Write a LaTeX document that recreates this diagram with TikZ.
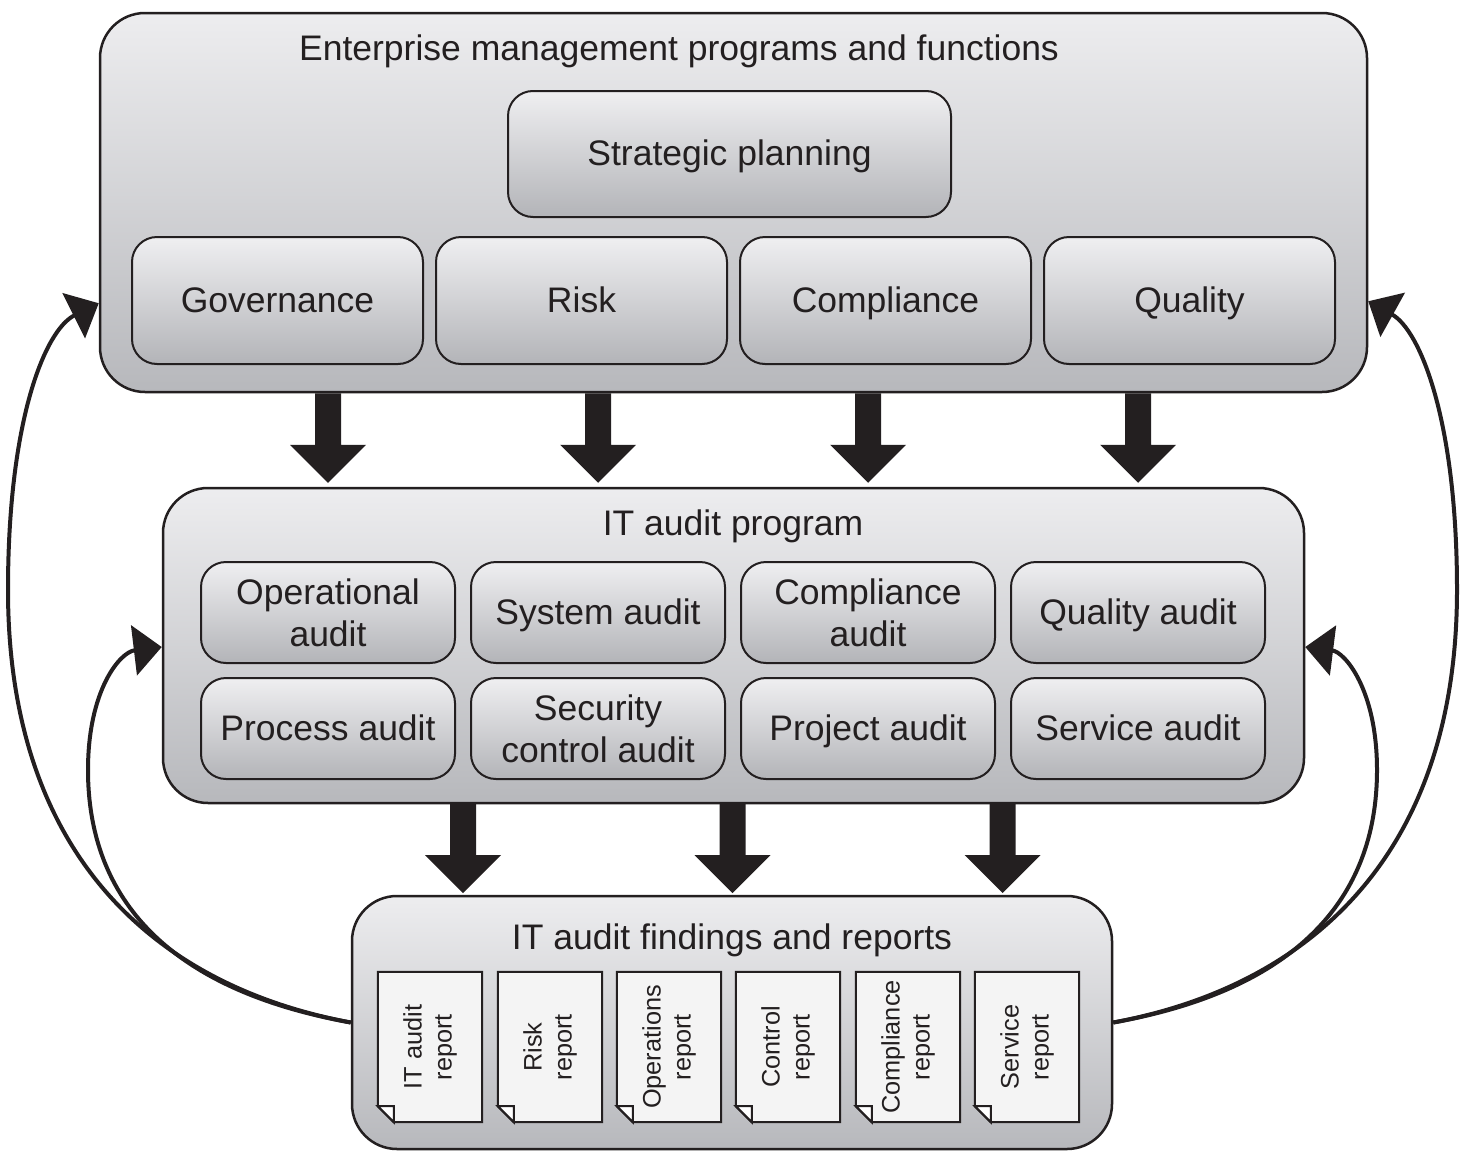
\documentclass[tikz,border=0pt]{standalone}
\usepackage{fontspec}
\setmainfont{Liberation Sans}
\usetikzlibrary{arrows.meta,calc}
\definecolor{ink}{HTML}{231F20}
\definecolor{boxtop}{HTML}{EDEDEF}
\definecolor{boxbot}{HTML}{B7B8BC}
\definecolor{intop}{HTML}{EFEFF1}
\definecolor{inbot}{HTML}{B3B4B8}
\definecolor{paper}{HTML}{F4F4F4}
\newcommand\blockarr[2]{\fill[ink] ($(#1)+(-13,0)$) -- ($(#2)+(-13,-38)$) -- ($(#2)+(-38,-38)$) -- (#2) -- ($(#2)+(38,-38)$) -- ($(#2)+(13,-38)$) -- ($(#1)+(13,0)$) -- cycle;}
\newcommand\reportframe[1]{%
  \filldraw[repline] (#1.north west) -- (#1.north east) -- (#1.south east) -- ($(#1.south west)+(16,0)$) -- ($(#1.south west)+(0,-16)$) -- cycle;
  \filldraw[repline, fill=white] ($(#1.south west)+(0,-16)$) -- ($(#1.south west)+(16,-16)$) -- ($(#1.south west)+(16,0)$) -- cycle;}
\begin{document}
\begin{tikzpicture}[x=1pt,y=-1pt,
  outerbox/.style={draw=ink, line width=2.5pt, rounded corners=45pt, top color=boxtop, bottom color=boxbot, inner sep=0pt},
  innerbox/.style={draw=ink, line width=2pt, rounded corners=25pt, top color=intop, bottom color=inbot, inner sep=0pt, font=\fontsize{35.5}{42}\selectfont, text=ink, align=center},
  oneline/.style={text height=28pt, text depth=5pt},
  title/.style={font=\fontsize{35.5}{42}\selectfont, text=ink, inner sep=0pt, text height=26pt, text depth=7pt},
  repbox/.style={minimum width=104pt, minimum height=150pt, inner sep=0pt},
  repline/.style={draw=ink, line width=2pt, fill=paper, line join=miter},
  reptext/.style={rotate=90, align=center, font=\fontsize{25.3}{30}\selectfont, text=ink, inner sep=0pt},
  curvearrow/.style={draw=ink, line width=4pt, -{Triangle[length=28pt,width=50pt]}}
]
\useasboundingbox (0,0) rectangle (1470,1162);

% outer boxes
\node[outerbox, minimum width=1267pt, minimum height=379pt] (top) at (733.5,202.5) {};
\node[outerbox, minimum width=1141pt, minimum height=315pt] (mid) at (733.5,645.5) {};
\node[outerbox, minimum width=760pt, minimum height=253pt] (bot) at (732,1022.5) {};

% titles
\node[title] (toptitle) at (679,51) {Enterprise management programs and functions};
\node[title] (midtitle) at (733,526) {IT audit program};
\node[title] (bottitle) at (732,940) {IT audit findings and reports};

% top inner boxes
\node[innerbox, oneline, minimum width=443pt, minimum height=126pt] (strat) at (729.5,154) {Strategic planning};
\node[innerbox, oneline, minimum width=291pt, minimum height=127pt] (gov) at (277.5,300.5) {Governance};
\node[innerbox, oneline, minimum width=291pt, minimum height=127pt] (risk) at (581.5,300.5) {Risk};
\node[innerbox, oneline, minimum width=291pt, minimum height=127pt] (comp) at (885.5,300.5) {Compliance};
\node[innerbox, oneline, minimum width=291pt, minimum height=127pt] (qual) at (1189.5,300.5) {Quality};

% middle inner boxes
\node[innerbox, minimum width=254pt, minimum height=101pt] (op) at (328,612.5) {Operational\\audit};
\node[innerbox, oneline, minimum width=254pt, minimum height=101pt] (sys) at (598,612.5) {System audit};
\node[innerbox, minimum width=254pt, minimum height=101pt] (ca) at (868,612.5) {Compliance\\audit};
\node[innerbox, oneline, minimum width=254pt, minimum height=101pt] (qa) at (1138,612.5) {Quality audit};
\node[innerbox, oneline, minimum width=254pt, minimum height=101pt] (pa) at (328,728.5) {Process audit};
\node[innerbox, minimum width=254pt, minimum height=101pt] (sca) at (598,728.5) {Security\\control audit};
\node[innerbox, oneline, minimum width=254pt, minimum height=101pt] (pja) at (868,728.5) {Project audit};
\node[innerbox, oneline, minimum width=254pt, minimum height=101pt] (sa) at (1138,728.5) {Service audit};

% reports
\node[repbox] (r1) at (430,1047) {};
\node[repbox] (r2) at (550,1047) {};
\node[repbox] (r3) at (669,1047) {};
\node[repbox] (r4) at (788,1047) {};
\node[repbox] (r5) at (908,1047) {};
\node[repbox] (r6) at (1027,1047) {};
\reportframe{r1}
\reportframe{r2}
\reportframe{r3}
\reportframe{r4}
\reportframe{r5}
\reportframe{r6}
\node[reptext] (t1) at (r1.center) {IT audit\\report};
\node[reptext] (t2) at (r2.center) {Risk\\report};
\node[reptext] (t3) at (r3.center) {Operations\\report};
\node[reptext] (t4) at (r4.center) {Control\\report};
\node[reptext] (t5) at (r5.center) {Compliance\\report};
\node[reptext] (t6) at (r6.center) {Service\\report};

% block arrows top -> middle
\coordinate (ta1) at (top.south -| op);
\coordinate (tb1) at ($(mid.north -| op)+(0,-4)$);
\coordinate (ta2) at (top.south -| sys);
\coordinate (tb2) at ($(mid.north -| sys)+(0,-4)$);
\coordinate (ta3) at (top.south -| ca);
\coordinate (tb3) at ($(mid.north -| ca)+(0,-4)$);
\coordinate (ta4) at (top.south -| qa);
\coordinate (tb4) at ($(mid.north -| qa)+(0,-4)$);
\blockarr{ta1}{tb1}
\blockarr{ta2}{tb2}
\blockarr{ta3}{tb3}
\blockarr{ta4}{tb4}

% block arrows middle -> bottom
\coordinate (ma1) at (463,803);
\coordinate (mb1) at (463,893);
\coordinate (ma2) at (732.5,803);
\coordinate (mb2) at (732.5,893);
\coordinate (ma3) at (1002.5,803);
\coordinate (mb3) at (1002.5,893);
\blockarr{ma1}{mb1}
\blockarr{ma2}{mb2}
\blockarr{ma3}{mb3}

% feedback curves
\coordinate (topL) at ($(top.south west)+(0,-90)$);
\coordinate (topR) at ($(top.south east)+(0,-92)$);
\coordinate (midL) at ($(mid.west)+(0,1.5)$);
\coordinate (midR) at ($(mid.east)+(0,1.5)$);
\draw[curvearrow] (bot.west) .. controls (150,985) and (8,850) .. (8,590) .. controls (8,420) and (45,330) .. (topL);
\draw[curvearrow] (bot.west) .. controls (170,990) and (88,900) .. (88,770) .. controls (88,690) and (120,652) .. (midL);
\draw[curvearrow] (bot.east) .. controls (1315,985) and (1457,850) .. (1457,590) .. controls (1457,420) and (1420,330) .. (topR);
\draw[curvearrow] (bot.east) .. controls (1295,990) and (1377,900) .. (1377,770) .. controls (1377,690) and (1345,652) .. (midR);
\end{tikzpicture}
\end{document}
